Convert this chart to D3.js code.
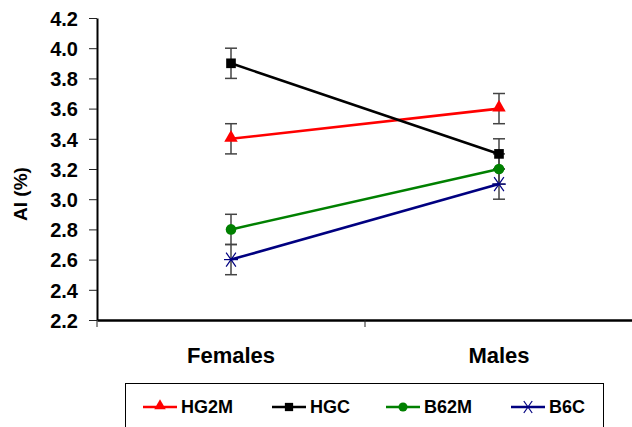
<!DOCTYPE html>
<html>
<head>
<meta charset="utf-8">
<script src="https://cdn.jsdelivr.net/npm/d3@7"></script>
<style>
  body { margin: 0; background: #fff; }
  text { font-family: "Liberation Sans", Arial, sans-serif; font-weight: bold; }
</style>
</head>
<body>
<div id="chart"></div>
<script>
/*
 * Data.
 */
var groups = ["Females", "Males"]
  , seriesNames = ["HG2M", "HGC", "B62M", "B6C"]
  , seriesColors = ["#ff0000", "#000000", "#008000", "#000080"]
  , seriesSymbols = ["triangle", "square", "circle", "star"]
  , hg2m = [3.4, 3.6]
  , hgc = [3.9, 3.3]
  , b62m = [2.8, 3.2]
  , b6c = [2.6, 3.1]
  , errHg2m = [0.1, 0.1]
  , errHgc = [0.1, 0.1]
  , errB62m = [0.1, 0.1]
  , errB6c = [0.1, 0.1]
  , yTicks = [2.2, 2.4, 2.6, 2.8, 3.0, 3.2, 3.4, 3.6, 3.8, 4.0, 4.2];

var values = [hg2m, hgc, b62m, b6c]
  , errors = [errHg2m, errHgc, errB62m, errB6c]
  , width = 632
  , height = 427
  , plotLeft = 97
  , plotRight = 633
  , plotTop = 18
  , plotBottom = 320;

var svg = d3.select('#chart').append('svg')
  .attr('width', width)
  .attr('height', height);

var x = d3.scaleBand().domain(groups).range([plotLeft, plotRight]);
var y = d3.scaleLinear().domain([2.2, 4.2]).range([plotBottom, plotTop]);

/*
 * Axes
 */
var yAxis = svg.append('g')
  .attr('transform', 'translate(' + plotLeft + ',0)')
  .call(d3.axisLeft(y).tickValues(yTicks).tickSize(8).tickSizeOuter(0)
    .tickFormat(d3.format('.1f')));
yAxis.select('.domain').attr('stroke', '#000').attr('stroke-width', 2);
yAxis.selectAll('.tick line').attr('stroke', '#222');
yAxis.selectAll('.tick text')
  .attr('font-size', 20)
  .attr('x', -19)
  .attr('dy', '0.36em')
  .attr('fill', '#000');

var xAxis = svg.append('g')
  .attr('transform', 'translate(0,' + plotBottom + ')')
  .call(d3.axisBottom(x).tickSize(0).tickFormat(''));
xAxis.select('.domain').attr('stroke', '#000').attr('stroke-width', 2.5);

// category boundary ticks
svg.selectAll('.xtick')
  .data(groups)
  .enter().append('line')
  .attr('x1', function(d) { return x(d); })
  .attr('x2', function(d) { return x(d); })
  .attr('y1', plotBottom)
  .attr('y2', plotBottom + 7)
  .attr('stroke', '#222');

svg.selectAll('.xlabel')
  .data(groups)
  .enter().append('text')
  .attr('x', function(d) { return x(d) + x.bandwidth() / 2; })
  .attr('y', 363)
  .attr('text-anchor', 'middle')
  .attr('font-size', 22)
  .text(function(d) { return d; });

svg.append('text')
  .attr('transform', 'translate(27,194) rotate(-90)')
  .attr('text-anchor', 'middle')
  .attr('font-size', 19)
  .text('AI (%)');

/*
 * Series
 */
var cx = function(i) { return x(groups[i]) + x.bandwidth() / 2; };

var line = d3.line()
  .x(function(d, i) { return cx(i); })
  .y(function(d) { return y(d); });

function drawSymbol(g, kind, color, px, py, s) {
  if (kind === 'star') {
    var r = s;
    [[-r, 0, r, 0], [-r * 0.7, -r, r * 0.7, r], [-r * 0.7, r, r * 0.7, -r]].forEach(function(l) {
      g.append('line')
        .attr('x1', px + l[0]).attr('y1', py + l[1])
        .attr('x2', px + l[2]).attr('y2', py + l[3])
        .attr('stroke', color).attr('stroke-width', 1.2);
    });
    return;
  }
  var type = { triangle: d3.symbolTriangle, square: d3.symbolSquare, circle: d3.symbolCircle }[kind];
  var size = { triangle: s * s * 1.6, square: s * s * 1.9, circle: s * s * 1.8 }[kind];
  g.append('path')
    .attr('d', d3.symbol().type(type).size(size)())
    .attr('transform', 'translate(' + px + ',' + (kind === 'triangle' ? py - 1 : py) + ')')
    .attr('fill', color);
}

// error bars first
values.forEach(function(vals, si) {
  var g = svg.append('g');
  vals.forEach(function(v, i) {
    var e = errors[si][i], px = cx(i);
    g.append('line')
      .attr('x1', px).attr('x2', px)
      .attr('y1', y(v + e)).attr('y2', y(v - e))
      .attr('stroke', '#444').attr('stroke-width', 1.5);
    [v + e, v - e].forEach(function(c) {
      g.append('line')
        .attr('x1', px - 6).attr('x2', px + 6)
        .attr('y1', y(c)).attr('y2', y(c))
        .attr('stroke', '#444').attr('stroke-width', 1.5);
    });
  });
});

values.forEach(function(vals, si) {
  var g = svg.append('g');
  g.append('path')
    .datum(vals)
    .attr('d', line)
    .attr('fill', 'none')
    .attr('stroke', seriesColors[si])
    .attr('stroke-width', 2.6);
  vals.forEach(function(v, i) {
    drawSymbol(g, seriesSymbols[si], seriesColors[si], cx(i), y(v), 7);
  });
});

/*
 * Legend
 */
svg.append('rect')
  .attr('x', 125.5).attr('y', 383.5)
  .attr('width', 478).attr('height', 60)
  .attr('fill', 'none').attr('stroke', '#000').attr('stroke-width', 1);

var legendX = [143, 272, 386, 511];
seriesNames.forEach(function(name, si) {
  var g = svg.append('g')
    , lx = legendX[si]
    , ly = 407;
  g.append('line')
    .attr('x1', lx).attr('x2', lx + 34)
    .attr('y1', ly).attr('y2', ly)
    .attr('stroke', seriesColors[si]).attr('stroke-width', 2.5);
  drawSymbol(g, seriesSymbols[si], seriesColors[si], lx + 17, ly, 6);
  g.append('text')
    .attr('x', lx + 38)
    .attr('y', ly + 6)
    .attr('font-size', 18)
    .text(name);
});
</script>
</body>
</html>
